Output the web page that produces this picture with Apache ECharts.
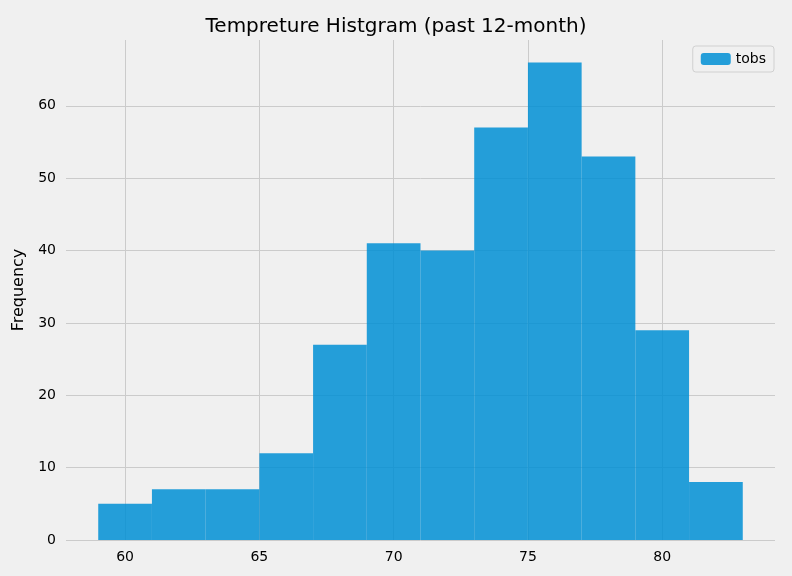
<!DOCTYPE html>
<html><head><meta charset="utf-8">
<script src="https://cdn.jsdelivr.net/npm/echarts@6/dist/echarts.min.js"></script>
<style>html,body{margin:0;background:#f0f0f0}#c{width:792px;height:576px}</style>
</head><body><div id="c"></div>
<script>
var binEdges = [59, 61, 63, 65, 67, 69, 71, 73, 75, 77, 79, 81, 83];
var counts = [5, 7, 7, 12, 27, 41, 40, 57, 66, 53, 29, 8];
var xTicks = [60, 65, 70, 75, 80];
var yTicks = [0, 10, 20, 30, 40, 50, 60];

var bins = counts.map(function (c, i) { return [binEdges[i], binEdges[i + 1], c]; });
var chart = echarts.init(document.getElementById('c'));
var txt = { color: '#000', fontFamily: 'DejaVu Sans', fontSize: 14 };
chart.setOption({
  backgroundColor: '#f0f0f0',
  animation: false,
  title: { text: 'Tempreture Histgram (past 12-month)', left: 'center', top: 12,
    textStyle: { color: '#000', fontFamily: 'DejaVu Sans', fontSize: 20, fontWeight: 'normal' } },
  legend: { right: 18, top: 46, itemWidth: 30, itemHeight: 12, padding: [6, 8],
    backgroundColor: '#f0f0f0', borderColor: '#d0d0d0', borderWidth: 1, borderRadius: 3,
    textStyle: txt, data: ['tobs'] },
  grid: { left: 66, right: 17, top: 40, bottom: 36 },
  xAxis: { type: 'value', min: 57.8, max: 84.2,
    axisLine: { show: false }, axisTick: { show: false, customValues: xTicks },
    axisLabel: Object.assign({ customValues: xTicks, margin: 10 }, txt),
    splitLine: { show: true, lineStyle: { color: '#cbcbcb' } } },
  yAxis: { type: 'value', min: 0, max: 69.1, name: 'Frequency', nameLocation: 'middle',
    nameGap: 38, nameTextStyle: { color: '#000', fontFamily: 'DejaVu Sans', fontSize: 16 },
    axisLine: { show: false }, axisTick: { show: false, customValues: yTicks },
    axisLabel: Object.assign({ customValues: yTicks, margin: 10 }, txt),
    splitLine: { show: true, lineStyle: { color: '#cbcbcb' } } },
  series: [{
    name: 'tobs', type: 'custom', data: bins,
    itemStyle: { color: 'rgba(0,143,213,0.85)' },
    encode: { x: [0, 1], y: 2 },
    renderItem: function (params, api) {
      var p0 = api.coord([api.value(0), api.value(2)]);
      var p1 = api.coord([api.value(1), 0]);
      return { type: 'rect', shape: { x: p0[0], y: p0[1], width: p1[0] - p0[0], height: p1[1] - p0[1] },
        style: { fill: 'rgba(0,143,213,0.85)' } };
    }
  }]
});
</script></body></html>
